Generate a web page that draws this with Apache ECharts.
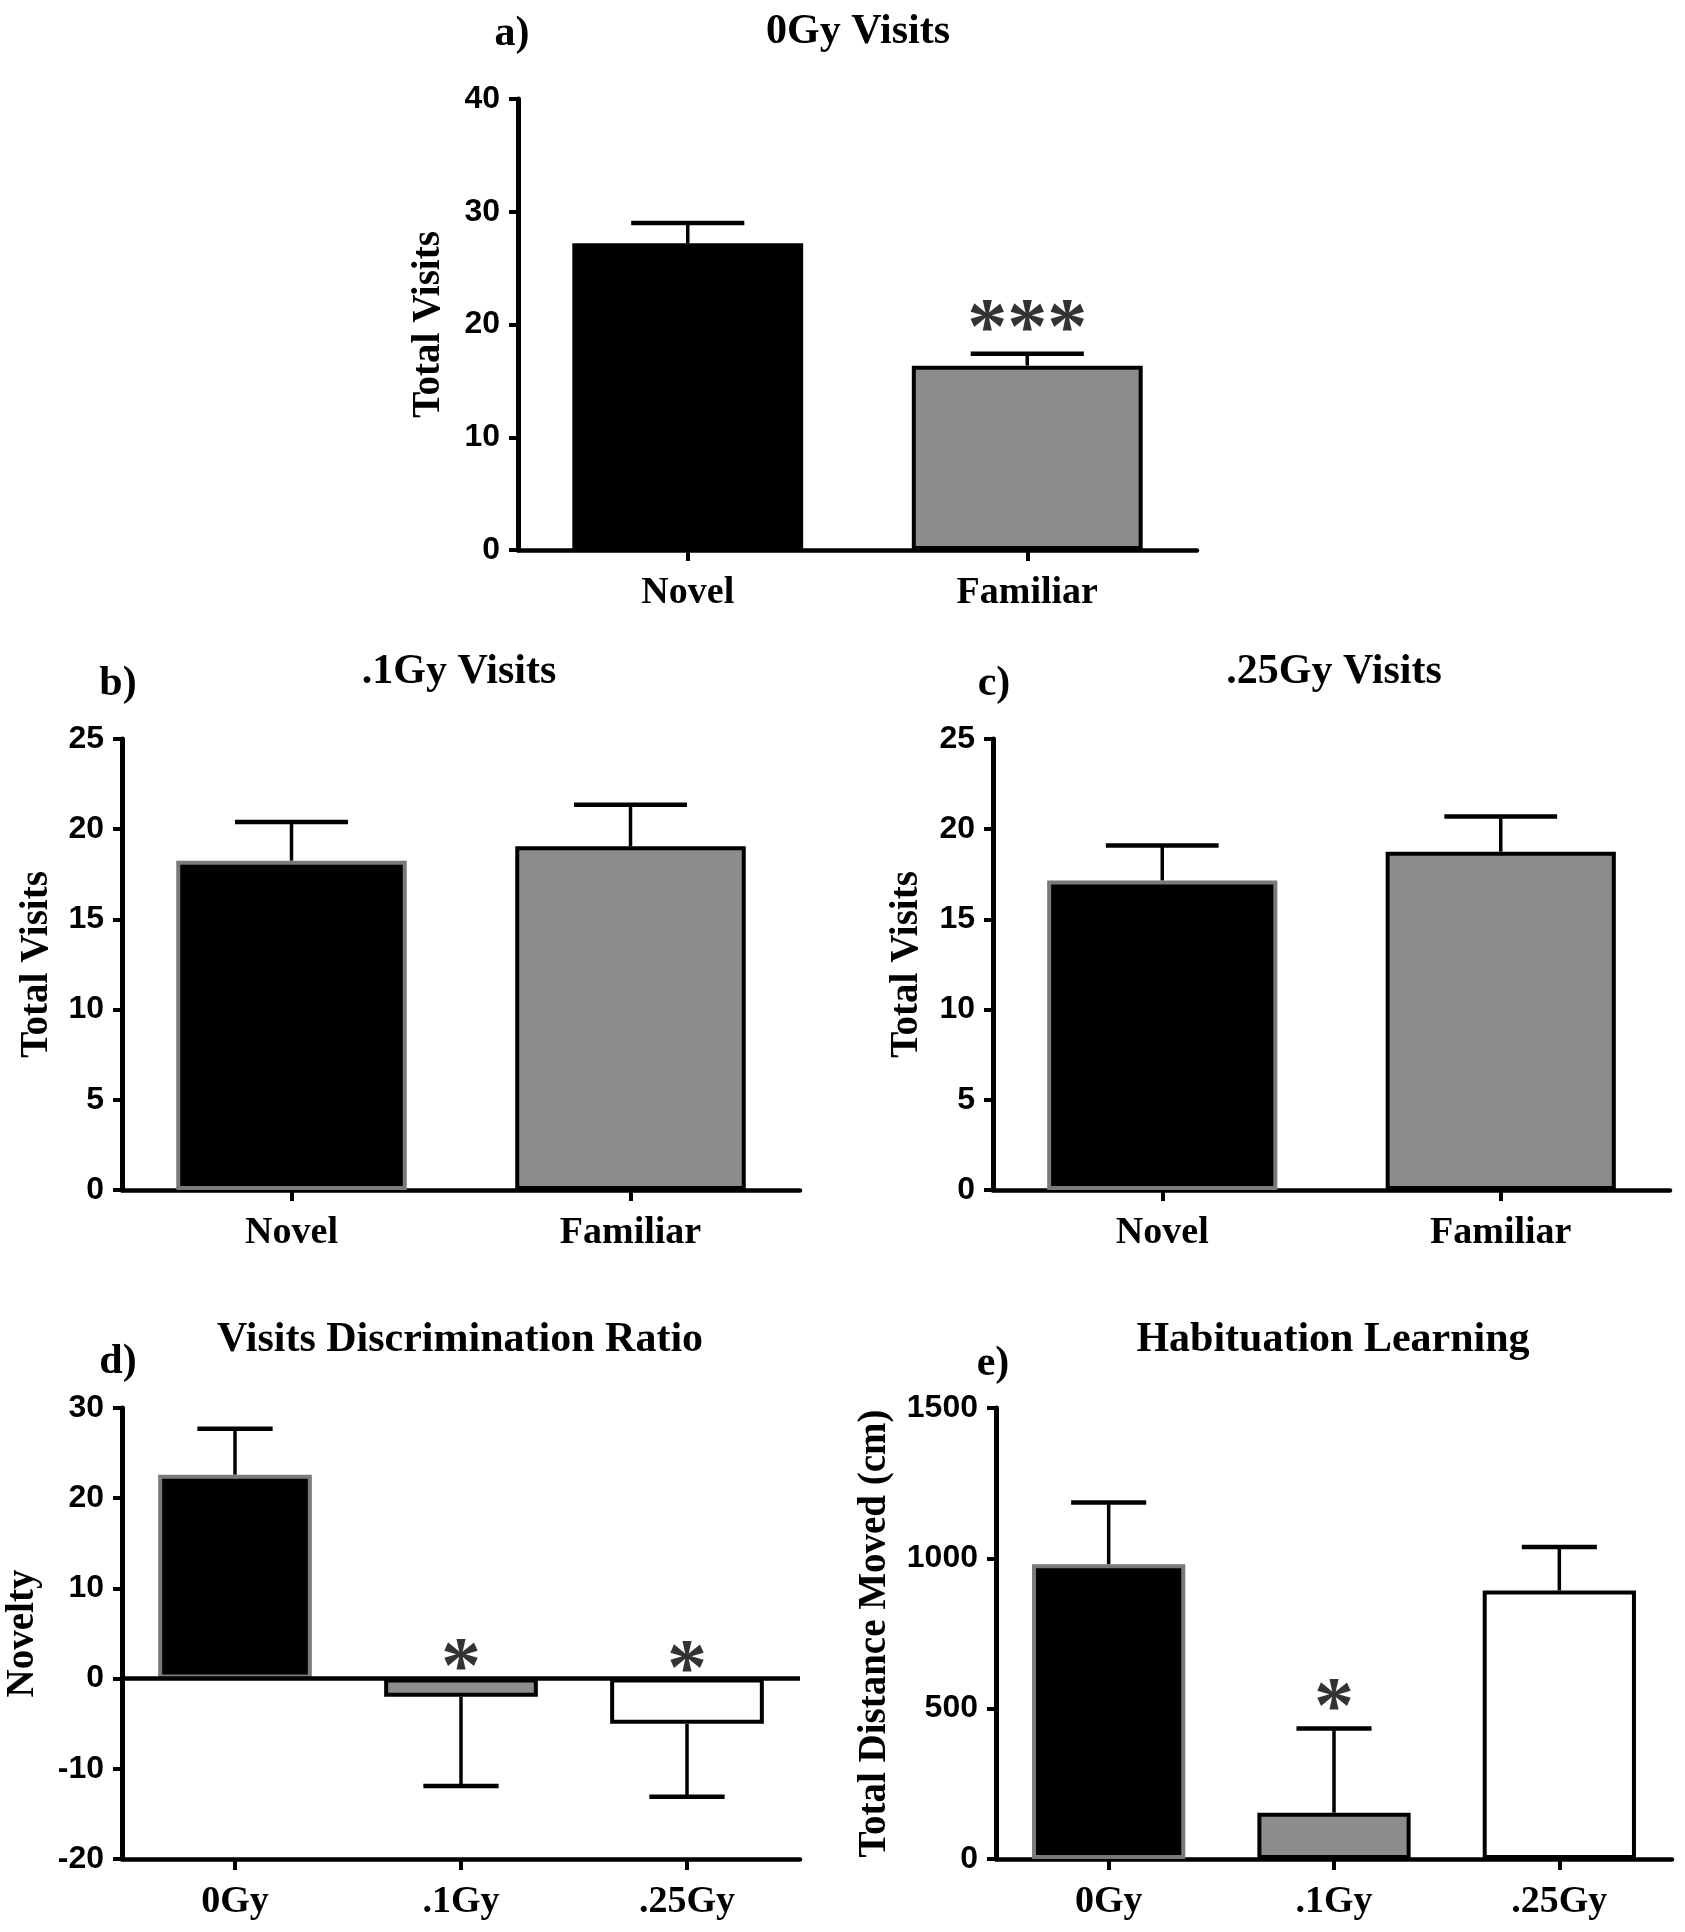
<!DOCTYPE html>
<html><head><meta charset="utf-8">
<script src="https://cdn.jsdelivr.net/npm/echarts@6/dist/echarts.min.js"></script>
<style>html,body{margin:0;padding:0;background:#fff}#c{width:1685px;height:1932px}</style>
</head><body><div id="c"></div>
<script>
// ---------- data ----------
const catsVisits = ['Novel', 'Familiar'];
const catsDose = ['0Gy', '.1Gy', '.25Gy'];

const meanA = [27.2, 16.35];  const semA = [1.8, 1.05];
const meanB = [18.25, 19.05]; const semB = [2.15, 2.3];
const meanC = [17.15, 18.75]; const semC = [1.95, 1.95];
const meanD = [22.6, -2.0, -5.0]; const semD = [5.1, 9.9, 8.1];
const meanE = [980, 154, 893]; const semE = [206, 280, 145];

const starsA = ['', '***'];   const starAtA = [null, 20.9];
const starsD = ['', '*', '*']; const starAtD = [null, 2.8, 2.6];
const starsE = ['', '*', ''];  const starAtE = [null, 550, null];

const titles = ['0Gy Visits', '.1Gy Visits', '.25Gy Visits', 'Visits Discrimination Ratio', 'Habituation Learning'];
const letters = ['a)', 'b)', 'c)', 'd)', 'e)'];
const yNames = ['Total Visits', 'Total Visits', 'Total Visits', 'Novelty', 'Total Distance Moved (cm)'];
const yScaleA = [0, 40, 10];
const yScaleB = [0, 25, 5];
const yScaleC = [0, 25, 5];
const yScaleD = [-20, 30, 10];
const yScaleE = [0, 1500, 500];

const fillVisits = ['#000000', '#8c8c8c'];
const fillDose = ['#000000', '#8c8c8c', '#ffffff'];

// ---------- build ----------
const SERIF = '"Liberation Serif", "Times New Roman", serif';
const SANS = '"Liberation Sans", Arial, sans-serif';

const panels = [
  {cats: catsVisits, mean: meanA, sem: semA, scale: yScaleA, fills: fillVisits, borders: ['#000', '#000'], stars: starsA, starAt: starAtA,
   grid: {left: 518, top: 99, width: 679, height: 451}, nameGap: 70, onZero: true},
  {cats: catsVisits, mean: meanB, sem: semB, scale: yScaleB, fills: fillVisits, borders: ['#7a7a7a', '#000'], stars: null,
   grid: {left: 122, top: 739, width: 678, height: 451}, nameGap: 66, onZero: true},
  {cats: catsVisits, mean: meanC, sem: semC, scale: yScaleC, fills: fillVisits, borders: ['#7a7a7a', '#000'], stars: null,
   grid: {left: 993, top: 739, width: 677, height: 451}, nameGap: 67, onZero: true},
  {cats: catsDose, mean: meanD, sem: semD, scale: yScaleD, fills: fillDose, borders: ['#7a7a7a', '#000', '#000'], stars: starsD, starAt: starAtD,
   grid: {left: 122, top: 1408, width: 678, height: 451}, nameGap: 80, onZero: false, zeroLine: true},
  {cats: catsDose, mean: meanE, sem: semE, scale: yScaleE, fills: fillDose, borders: ['#7a7a7a', '#000', '#000'], stars: starsE, starAt: starAtE,
   grid: {left: 996, top: 1408, width: 676, height: 451}, nameGap: 102, onZero: true}
];

const BAR_FRAC = 0.68;

function errRender(params, api) {
  const i = api.value(0), m = api.value(1), s = api.value(2);
  const end = m >= 0 ? m + s : m - s;
  const p0 = api.coord([i, m]);
  const p1 = api.coord([i, end]);
  const bw = api.size([1, 0])[0] * BAR_FRAC;
  const hw = bw * 0.245;
  return {type: 'group', children: [
    {type: 'line', shape: {x1: p0[0], y1: p0[1], x2: p1[0], y2: p1[1]}, style: {stroke: '#000', lineWidth: 3.5}},
    {type: 'line', shape: {x1: p1[0] - hw, y1: p1[1], x2: p1[0] + hw, y2: p1[1]}, style: {stroke: '#000', lineWidth: 4.5}}
  ]};
}

const grids = [], xAxes = [], yAxes = [], series = [], graphics = [];
const titlePos = [[858, 32], [459, 672], [1334, 672], [460, 1340], [1333, 1340]];
const letterPos = [[512, 34], [118, 684], [994, 684], [118, 1362], [993, 1364]];

panels.forEach((p, k) => {
  grids.push(p.grid);
  xAxes.push({
    type: 'category', gridIndex: k, data: p.cats,
    axisLine: {onZero: p.onZero, lineStyle: {color: '#000', width: 4.5}},
    axisTick: {show: true, alignWithLabel: true, length: 11, lineStyle: {color: '#000', width: 4}},
    axisLabel: {color: '#000', fontFamily: SERIF, fontWeight: 'bold', fontSize: 38, margin: 24},
    splitLine: {show: false}
  });
  yAxes.push({
    type: 'value', gridIndex: k, min: p.scale[0], max: p.scale[1], interval: p.scale[2],
    name: yNames[k], nameLocation: 'middle', nameGap: p.nameGap, nameRotate: 90,
    nameTextStyle: {color: '#000', fontFamily: SERIF, fontWeight: 'bold', fontSize: 39},
    axisLine: {show: true, onZero: false, lineStyle: {color: '#000', width: 5}},
    axisTick: {show: true, length: 9, lineStyle: {color: '#000', width: 4}},
    axisLabel: {color: '#000', fontFamily: SANS, fontWeight: 'bold', fontSize: 32, margin: 18,
      formatter: v => String(v)},
    splitLine: {show: false}
  });
  const barSeries = {
    type: 'bar', xAxisIndex: k, yAxisIndex: k, barWidth: (BAR_FRAC * 100) + '%', z: 3,
    data: p.mean.map((v, i) => ({value: v, itemStyle: {color: p.fills[i], borderColor: p.borders[i], borderWidth: 4}})),
    silent: true
  };
  if (p.zeroLine) {
    barSeries.markLine = {silent: true, symbol: 'none', label: {show: false},
      lineStyle: {color: '#000', width: 4.5, type: 'solid'}, data: [{yAxis: 0}]};
  }
  series.push(barSeries);
  series.push({
    type: 'custom', xAxisIndex: k, yAxisIndex: k, z: 2, silent: true,
    renderItem: errRender,
    data: p.mean.map((v, i) => [i, v, p.sem[i]])
  });
  if (p.stars) {
    const pts = [];
    p.stars.forEach((s, i) => { if (s) pts.push({value: [i, p.starAt[i]], label: {formatter: s}}); });
    series.push({
      type: 'scatter', xAxisIndex: k, yAxisIndex: k, symbolSize: 1, z: 5, silent: true,
      itemStyle: {color: 'rgba(0,0,0,0)'},
      label: {show: true, position: 'inside', color: '#000', fontFamily: SERIF, fontWeight: 'bold', fontSize: 80, offset: [0, 18]},
      data: pts
    });
  }
  graphics.push({type: 'text', x: titlePos[k][0], y: titlePos[k][1], silent: true,
    style: {text: titles[k], align: 'center', verticalAlign: 'middle', fill: '#000',
      font: 'bold 42px ' + SERIF}});
  graphics.push({type: 'text', x: letterPos[k][0], y: letterPos[k][1], silent: true,
    style: {text: letters[k], align: 'center', verticalAlign: 'middle', fill: '#000',
      font: 'bold 42px ' + SERIF}});
});

const chart = echarts.init(document.getElementById('c'), null, {renderer: 'canvas'});
chart.setOption({
  animation: false,
  backgroundColor: '#ffffff',
  grid: grids, xAxis: xAxes, yAxis: yAxes, series: series, graphic: graphics
});
</script>
</body></html>
